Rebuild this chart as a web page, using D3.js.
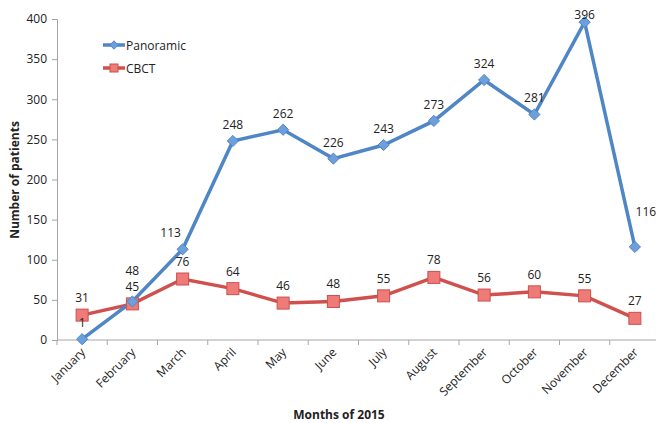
<!DOCTYPE html>
<html>
<head>
<meta charset="utf-8">
<script src="https://cdn.jsdelivr.net/npm/d3@7"></script>
<style>
	body { margin: 0; background: #fff; }
	text { font-family: "Open Sans", "DejaVu Sans", sans-serif; fill: #222; }
</style>
</head>
<body>
<script>
var months = ["January", "February", "March", "April", "May", "June", "July",
	"August", "September", "October", "November", "December"];
var panoramic = [1, 48, 113, 248, 262, 226, 243, 273, 324, 281, 396, 116];
var cbct = [31, 45, 76, 64, 46, 48, 55, 78, 56, 60, 55, 27];
var yTicks = [0, 50, 100, 150, 200, 250, 300, 350, 400];

// label nudges (Excel labels were moved by hand in a few places)
var panoNudge = {1: [0, -14], 2: [-12, 0], 10: [0, 9], 11: [11, -19]};

var width = 656, height = 423;
var margin = {top: 19, right: -4, bottom: 83, left: 57};

var svg = d3.select("body").append("svg")
	.attr("width", width)
	.attr("height", height);

var x = d3.scaleBand()
	.domain(months)
	.range([margin.left, width - margin.right]);

var y = d3.scaleLinear()
	.domain([0, 400])
	.range([height - margin.bottom, margin.top]);

var cx = function(i) { return x(months[i]) + x.bandwidth() / 2; };

// y axis
var yAxis = svg.append("g")
	.attr("transform", "translate(" + margin.left + ",0)")
	.call(d3.axisLeft(y).tickValues(yTicks).tickSize(5).tickPadding(5));
yAxis.selectAll("text").style("font-size", "12px").attr("fill", "#222");
yAxis.select(".domain").attr("stroke", "#a6a6a6");
yAxis.selectAll(".tick line").attr("stroke", "#a6a6a6");

// x axis with ticks between categories
var xAxis = svg.append("g")
	.attr("transform", "translate(0," + y(0) + ")");
xAxis.append("line")
	.attr("x1", margin.left).attr("x2", width)
	.attr("stroke", "#a6a6a6");
xAxis.selectAll(".tk")
	.data(d3.range(months.length + 1))
	.enter().append("line")
	.attr("x1", function(i) { return margin.left + i * x.step(); })
	.attr("x2", function(i) { return margin.left + i * x.step(); })
	.attr("y1", 0).attr("y2", 5)
	.attr("stroke", "#a6a6a6");
xAxis.selectAll(".lbl")
	.data(months)
	.enter().append("text")
	.attr("text-anchor", "end")
	.style("font-size", "12px")
	.attr("transform", function(d) {
		return "translate(" + (x(d) + x.bandwidth() / 2 + 4) + ",13) rotate(-45)";
	})
	.text(function(d) { return d; });

// axis titles
svg.append("text")
	.attr("x", 339).attr("y", 419)
	.attr("text-anchor", "middle")
	.style("font-size", "12px").style("font-weight", "bold")
	.text("Months of 2015");
svg.append("text")
	.attr("transform", "translate(19,180) rotate(-90)")
	.attr("text-anchor", "middle")
	.style("font-size", "12px").style("font-weight", "bold")
	.text("Number of patients");

var line = d3.line()
	.x(function(d, i) { return cx(i); })
	.y(function(d) { return y(d); });

var blue = "#4f86c6", red = "#d0504d";

// CBCT series
svg.append("path")
	.datum(cbct)
	.attr("d", line)
	.attr("fill", "none")
	.attr("stroke", red)
	.attr("stroke-width", 3.5);

// Panoramic series
svg.append("path")
	.datum(panoramic)
	.attr("d", line)
	.attr("fill", "none")
	.attr("stroke", blue)
	.attr("stroke-width", 3.5);

svg.selectAll(".sq")
	.data(cbct)
	.enter().append("rect")
	.attr("x", function(d, i) { return cx(i) - 6; })
	.attr("y", function(d) { return y(d) - 6; })
	.attr("width", 12).attr("height", 12)
	.attr("fill", "#ef7b78")
	.attr("stroke", "#c9504c")
	.attr("stroke-width", 1);

var diamond = d3.symbol().type(d3.symbolDiamond2).size(80);
svg.selectAll(".dm")
	.data(panoramic)
	.enter().append("path")
	.attr("d", diamond)
	.attr("transform", function(d, i) {
		return "translate(" + cx(i) + "," + y(d) + ")";
	})
	.attr("fill", "#6d9fdc")
	.attr("stroke", "#4f86c6")
	.attr("stroke-width", 1);

// data labels
svg.selectAll(".cl")
	.data(cbct)
	.enter().append("text")
	.attr("x", function(d, i) { return cx(i); })
	.attr("y", function(d) { return y(d) - 13; })
	.attr("text-anchor", "middle")
	.style("font-size", "12px")
	.text(function(d) { return d; });

svg.selectAll(".pl")
	.data(panoramic)
	.enter().append("text")
	.attr("x", function(d, i) { return cx(i) + (panoNudge[i] ? panoNudge[i][0] : 0); })
	.attr("y", function(d, i) { return y(d) - 12 + (panoNudge[i] ? panoNudge[i][1] : 0); })
	.attr("text-anchor", "middle")
	.style("font-size", "12px")
	.text(function(d) { return d; });

// legend
var legend = [["Panoramic", blue], ["CBCT", red]];
var lg = svg.selectAll(".lg")
	.data(legend)
	.enter().append("g")
	.attr("transform", function(d, i) { return "translate(103," + (45 + i * 23) + ")"; });
lg.append("line")
	.attr("x1", 0).attr("x2", 22)
	.attr("stroke", function(d) { return d[1]; })
	.attr("stroke-width", 3.5);
lg.filter(function(d, i) { return i == 0; }).append("path")
	.attr("d", d3.symbol().type(d3.symbolDiamond2).size(45))
	.attr("transform", "translate(11,0)")
	.attr("fill", "#6d9fdc").attr("stroke", blue);
lg.filter(function(d, i) { return i == 1; }).append("rect")
	.attr("x", 7).attr("y", -4).attr("width", 8).attr("height", 8)
	.attr("fill", "#ef7b78").attr("stroke", "#c9504c");
lg.append("text")
	.attr("x", 23).attr("y", 4.5)
	.style("font-size", "12px")
	.text(function(d) { return d[0]; });
</script>
</body>
</html>
